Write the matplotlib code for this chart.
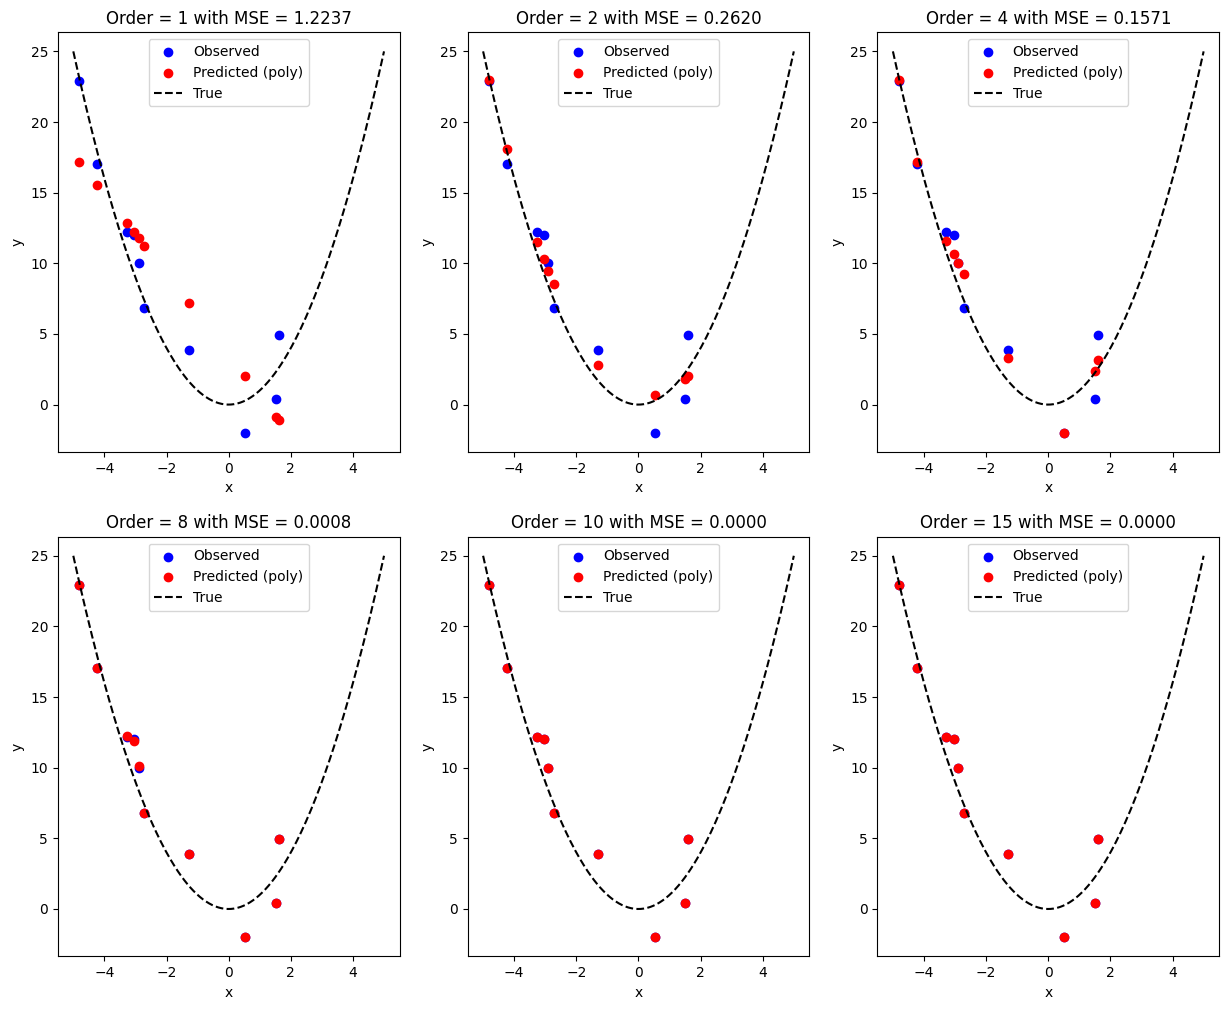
import numpy as np
import matplotlib
matplotlib.use("Agg")
import matplotlib.pyplot as plt

x_obs = [-4.82, -4.24, -3.28, -3.04, -2.90, -2.72, -1.29, 0.52, 1.51, 1.61]
y_obs = [22.92, 17.06, 12.19, 12.00, 10.00, 6.82, 3.86, -2.00, 0.42, 4.92]

orders = [1, 2, 4, 8, 10, 15]
mse = [1.2237, 0.2620, 0.1571, 0.0008, 0.0000, 0.0000]

pred_1 = [17.20, 15.53, 12.82, 12.19, 11.76, 11.25, 7.18, 2.02, -0.85, -1.08]
pred_2 = [22.96, 18.12, 11.50, 10.28, 9.44, 8.52, 2.80, 0.68, 1.81, 2.02]
pred_4 = [22.96, 17.20, 11.55, 10.64, 10.02, 9.22, 3.29, -2.00, 2.38, 3.15]
pred_8 = [22.92, 17.06, 12.26, 11.86, 10.14, 6.82, 3.86, -2.00, 0.40, 4.92]
pred_10 = [22.92, 17.06, 12.19, 12.00, 10.00, 6.82, 3.86, -2.00, 0.42, 4.92]
pred_15 = [22.92, 17.06, 12.19, 12.00, 10.00, 6.82, 3.86, -2.00, 0.42, 4.92]
preds = [pred_1, pred_2, pred_4, pred_8, pred_10, pred_15]

x_true = np.linspace(-5, 5, 200)
y_true = x_true ** 2

fig, axes = plt.subplots(2, 3, figsize=(12.29, 10.09), dpi=100)
fig.subplots_adjust(left=0.047, right=0.992, top=0.968, bottom=0.0522,
                    wspace=0.199, hspace=0.202)
for ax, order, m, p in zip(axes.flat, orders, mse, preds):
    ax.scatter(x_obs, y_obs, color='blue', label='Observed')
    ax.scatter(x_obs, p, color='red', label='Predicted (poly)')
    ax.plot(x_true, y_true, 'k--', label='True')
    ax.set_title(f"Order = {order} with MSE = {m:.4f}")
    ax.set_xlabel('x')
    ax.set_ylabel('y')
    ax.legend(loc='upper center')
fig.savefig('out.png')
